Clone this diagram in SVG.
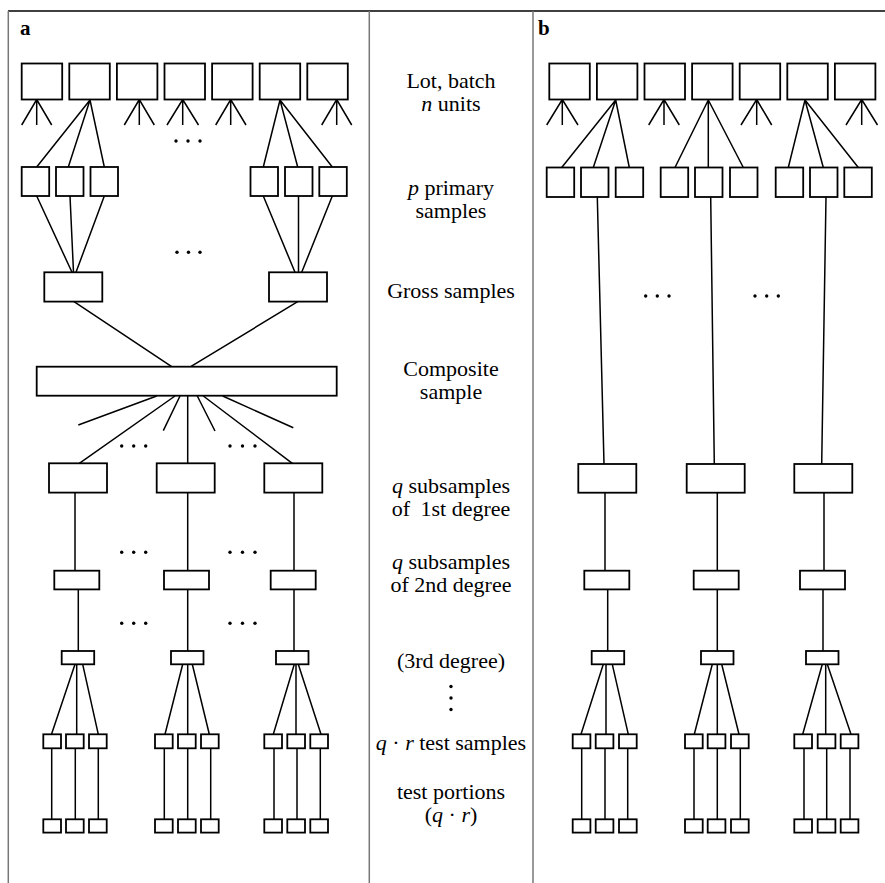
<svg xmlns="http://www.w3.org/2000/svg" width="885" height="883" viewBox="0 0 885 883">
<style>
.bx{fill:#fff;stroke:#000;stroke-width:1.8}
.ln{fill:none;stroke:#000;stroke-width:1.5}
.fr{fill:none;stroke:#777;stroke-width:1.5}
.lb{font-size:22px;fill:#000;text-anchor:middle}
.hd{font-size:21px;font-weight:bold;fill:#000}
.dt{fill:#000}
</style>
<rect width="885" height="883" fill="#fff"/>
<g id="frame" font-family="Liberation Serif, Times New Roman, DejaVu Serif, serif">
<line x1="8" y1="11" x2="885" y2="11" stroke="#000" stroke-width="1.5"/>
<line class="fr" x1="8.3" y1="11" x2="8.3" y2="883"/>
<line class="fr" x1="369.3" y1="11" x2="369.3" y2="883"/>
<line class="fr" x1="533" y1="11" x2="533" y2="883"/>
<text class="hd" x="20" y="35">a</text>
<text class="hd" x="538" y="35">b</text>
</g>
<g id="connectors">
<path class="ln" d="M21.7,125 L36.7,99.5 L51.7,125 M36.7,99.5 V125"/>
<path class="ln" d="M124.3,125 L139.3,99.5 L154.3,125 M139.3,99.5 V125"/>
<path class="ln" d="M167,125 L182.7,99.5 L198.5,125 M182.7,99.5 V125"/>
<path class="ln" d="M215.7,125 L230.7,99.5 L246,125 M230.7,99.5 V125"/>
<path class="ln" d="M321.7,125 L336.7,99.5 L351.7,125 M336.7,99.5 V125"/>
<path class="ln" d="M90,100 L36.7,167 M90,100 L68.3,167 M90,100 L104.3,167"/>
<path class="ln" d="M280,100 L263.3,167 M280,100 L297.7,167 M280,100 L332.3,167"/>
<path class="ln" d="M36.7,196 L72,272.3 M70,196 L73.5,272.3 M104.3,196 L76,272.3"/>
<path class="ln" d="M263.3,196 L295,272.3 M298.5,196 L298.5,272.3 M332.3,196 L301.7,272.3"/>
<path class="ln" d="M74,301.7 L171.7,366.7 M297.7,301.7 L190.7,366.7"/>
<path class="ln" d="M156.7,396 L78.3,425 M175,396 L79.3,463.3 M180,396 L163.3,430.7 M187.7,396 V463.3 M197.3,396 L215,431 M203.3,396 L292.3,463.3 M222.7,396 L293.3,427.7"/>
<path class="ln" d="M75,492.7 V570.7 M187.7,492.7 V570.7 M294,492.7 V570.7"/>
<path class="ln" d="M78.3,589.3 V651 M187.7,589.3 V651 M294,589.3 V651"/>
<path class="ln" d="M75,664.3 L51.5,734.3 M76.7,664.3 V734.3 M82.7,664.3 L98.3,734.3"/>
<path class="ln" d="M182.7,664.3 L165,734.3 M187.7,664.3 V734.3 M192.3,664.3 L209.3,734.3"/>
<path class="ln" d="M294.3,664.3 L273.3,734.3 M296,664.3 V734.3 M298.3,664.3 L321,734.3"/>
<path class="ln" d="M51.7,749 V819.3 M75.3,749 V819.3 M98.3,749 V819.3 M164.3,749 V819.3 M187.7,749 V819.3 M210.7,749 V819.3 M274,749 V819.3 M297,749 V819.3 M320.3,749 V819.3"/>
<path class="ln" d="M546.7,125 L562.3,99.5 L578,125 M562.3,99.5 V125"/>
<path class="ln" d="M648.7,125 L664,99.5 L679.3,125 M664,99.5 V125"/>
<path class="ln" d="M741,125 L756.7,99.5 L771.7,125 M756.7,99.5 V125"/>
<path class="ln" d="M846,125 L861.7,99.5 L877.5,125 M861.7,99.5 V125"/>
<path class="ln" d="M615.7,100 L561.7,167.5 M615.7,100 L593.3,167.5 M615.7,100 L629.3,167.5"/>
<path class="ln" d="M708.3,100 L675,167.5 M708.3,100 L708.3,167.5 M708.3,100 L743.3,167.5"/>
<path class="ln" d="M805,100 L788.3,167.5 M805,100 L823.3,167.5 M805,100 L858.3,167.5"/>
<path class="ln" d="M597.3,197 L604,464 M710.7,197 L714.3,464 M826,197 L821.7,464"/>
<path class="ln" d="M605,492.7 V570.7 M717.3,492.7 V570.7 M824,492.7 V570.7"/>
<path class="ln" d="M607.7,589.3 V651 M717.3,589.3 V651 M823,589.3 V651"/>
<path class="ln" d="M603.3,664.3 L581,734.3 M606,664.3 V734.3 M612.3,664.3 L628.3,734.3"/>
<path class="ln" d="M712.3,664.3 L694.3,734.3 M717.3,664.3 V734.3 M721.7,664.3 L739,734.3"/>
<path class="ln" d="M822.3,664.3 L802.7,734.3 M825.7,664.3 V734.3 M827.3,664.3 L851,734.3"/>
<path class="ln" d="M581.7,749 V819.3 M605,749 V819.3 M627.7,749 V819.3 M694,749 V819.3 M717.3,749 V819.3 M740.3,749 V819.3 M804,749 V819.3 M826.7,749 V819.3 M850,749 V819.3"/>
</g>
<g id="dots">
<circle class="dt" cx="176" cy="141" r="1.7"/><circle class="dt" cx="188" cy="141" r="1.7"/><circle class="dt" cx="200" cy="141" r="1.7"/>
<circle class="dt" cx="177" cy="252.3" r="1.7"/><circle class="dt" cx="188.5" cy="252.3" r="1.7"/><circle class="dt" cx="200" cy="252.3" r="1.7"/>
<circle class="dt" cx="121.7" cy="446" r="1.7"/><circle class="dt" cx="133.7" cy="446" r="1.7"/><circle class="dt" cx="145.7" cy="446" r="1.7"/>
<circle class="dt" cx="230" cy="446" r="1.7"/><circle class="dt" cx="242.5" cy="446" r="1.7"/><circle class="dt" cx="255" cy="446" r="1.7"/>
<circle class="dt" cx="121.7" cy="552.3" r="1.7"/><circle class="dt" cx="133.7" cy="552.3" r="1.7"/><circle class="dt" cx="145.7" cy="552.3" r="1.7"/>
<circle class="dt" cx="230" cy="552.3" r="1.7"/><circle class="dt" cx="242.5" cy="552.3" r="1.7"/><circle class="dt" cx="255" cy="552.3" r="1.7"/>
<circle class="dt" cx="121.7" cy="623.3" r="1.7"/><circle class="dt" cx="133.7" cy="623.3" r="1.7"/><circle class="dt" cx="145.7" cy="623.3" r="1.7"/>
<circle class="dt" cx="230" cy="623.3" r="1.7"/><circle class="dt" cx="242.5" cy="623.3" r="1.7"/><circle class="dt" cx="255" cy="623.3" r="1.7"/>
<circle class="dt" cx="645.7" cy="296" r="1.7"/><circle class="dt" cx="657.3" cy="296" r="1.7"/><circle class="dt" cx="669" cy="296" r="1.7"/>
<circle class="dt" cx="755" cy="296" r="1.7"/><circle class="dt" cx="766.7" cy="296" r="1.7"/><circle class="dt" cx="778.3" cy="296" r="1.7"/>
<circle class="dt" cx="451" cy="686.5" r="1.7"/><circle class="dt" cx="451" cy="698" r="1.7"/><circle class="dt" cx="451" cy="709.5" r="1.7"/>
</g>
<g id="a-lot">
<rect class="bx" x="21.7" y="63.5" width="40.5" height="36"/>
<rect class="bx" x="69.3" y="63.5" width="40.5" height="36"/>
<rect class="bx" x="116.9" y="63.5" width="40.5" height="36"/>
<rect class="bx" x="164.5" y="63.5" width="40.5" height="36"/>
<rect class="bx" x="212.1" y="63.5" width="40.5" height="36"/>
<rect class="bx" x="259.7" y="63.5" width="40.5" height="36"/>
<rect class="bx" x="307.3" y="63.5" width="40.5" height="36"/>
</g>
<g id="a-primary">
<rect class="bx" x="21.7" y="167" width="27.5" height="29"/>
<rect class="bx" x="56" y="167" width="27.5" height="29"/>
<rect class="bx" x="90.5" y="167" width="27.5" height="29"/>
<rect class="bx" x="250.5" y="167" width="27.5" height="29"/>
<rect class="bx" x="285" y="167" width="27.5" height="29"/>
<rect class="bx" x="319.3" y="167" width="27.5" height="29"/>
</g>
<g id="a-gross">
<rect class="bx" x="44.3" y="272.3" width="58" height="29.3"/>
<rect class="bx" x="269" y="272.3" width="58" height="29.3"/>
</g>
<g id="a-composite">
<rect class="bx" x="36.7" y="366.7" width="300" height="29"/>
</g>
<g id="a-sub1">
<rect class="bx" x="49" y="463.3" width="58" height="29.3"/>
<rect class="bx" x="156.7" y="463.3" width="58" height="29.3"/>
<rect class="bx" x="264.3" y="463.3" width="58" height="29.3"/>
</g>
<g id="a-sub2">
<rect class="bx" x="54.3" y="570.7" width="45" height="18.7"/>
<rect class="bx" x="164" y="570.7" width="45" height="18.7"/>
<rect class="bx" x="270.7" y="570.7" width="45" height="18.7"/>
</g>
<g id="a-sub3">
<rect class="bx" x="61.7" y="651" width="32.5" height="13.3"/>
<rect class="bx" x="171" y="651" width="32.5" height="13.3"/>
<rect class="bx" x="276" y="651" width="32.5" height="13.3"/>
</g>
<g id="a-test-samples">
<rect class="bx" x="43.3" y="734.3" width="17.7" height="14"/>
<rect class="bx" x="66" y="734.3" width="17.7" height="14"/>
<rect class="bx" x="89" y="734.3" width="17.7" height="14"/>
<rect class="bx" x="155" y="734.3" width="17.7" height="14"/>
<rect class="bx" x="178" y="734.3" width="17.7" height="14"/>
<rect class="bx" x="201" y="734.3" width="17.7" height="14"/>
<rect class="bx" x="264.3" y="734.3" width="17.7" height="14"/>
<rect class="bx" x="287.3" y="734.3" width="17.7" height="14"/>
<rect class="bx" x="310.3" y="734.3" width="17.7" height="14"/>
</g>
<g id="a-test-portions">
<rect class="bx" x="43.3" y="819.3" width="17.7" height="13.3"/>
<rect class="bx" x="66" y="819.3" width="17.7" height="13.3"/>
<rect class="bx" x="89" y="819.3" width="17.7" height="13.3"/>
<rect class="bx" x="155" y="819.3" width="17.7" height="13.3"/>
<rect class="bx" x="178" y="819.3" width="17.7" height="13.3"/>
<rect class="bx" x="201" y="819.3" width="17.7" height="13.3"/>
<rect class="bx" x="264.3" y="819.3" width="17.7" height="13.3"/>
<rect class="bx" x="287.3" y="819.3" width="17.7" height="13.3"/>
<rect class="bx" x="310.3" y="819.3" width="17.7" height="13.3"/>
</g>
<g id="b-lot">
<rect class="bx" x="549.3" y="63.5" width="40.5" height="36"/>
<rect class="bx" x="596.9" y="63.5" width="40.5" height="36"/>
<rect class="bx" x="644.5" y="63.5" width="40.5" height="36"/>
<rect class="bx" x="692.1" y="63.5" width="40.5" height="36"/>
<rect class="bx" x="739.7" y="63.5" width="40.5" height="36"/>
<rect class="bx" x="787.3" y="63.5" width="40.5" height="36"/>
<rect class="bx" x="834.9" y="63.5" width="40.5" height="36"/>
</g>
<g id="b-primary">
<rect class="bx" x="546.7" y="167.5" width="27.5" height="29.5"/>
<rect class="bx" x="581" y="167.5" width="27.5" height="29.5"/>
<rect class="bx" x="615.7" y="167.5" width="27.5" height="29.5"/>
<rect class="bx" x="660.7" y="167.5" width="27.5" height="29.5"/>
<rect class="bx" x="695" y="167.5" width="27.5" height="29.5"/>
<rect class="bx" x="730" y="167.5" width="27.5" height="29.5"/>
<rect class="bx" x="775.7" y="167.5" width="27.5" height="29.5"/>
<rect class="bx" x="810" y="167.5" width="27.5" height="29.5"/>
<rect class="bx" x="844.3" y="167.5" width="27.5" height="29.5"/>
</g>
<g id="b-sub1">
<rect class="bx" x="578.3" y="464" width="58" height="28.7"/>
<rect class="bx" x="686.7" y="464" width="58" height="28.7"/>
<rect class="bx" x="794.3" y="464" width="58" height="28.7"/>
</g>
<g id="b-sub2">
<rect class="bx" x="584.3" y="570.7" width="45" height="18.7"/>
<rect class="bx" x="693.7" y="570.7" width="45" height="18.7"/>
<rect class="bx" x="800" y="570.7" width="45" height="18.7"/>
</g>
<g id="b-sub3">
<rect class="bx" x="591.7" y="651" width="32.5" height="13.3"/>
<rect class="bx" x="701" y="651" width="32.5" height="13.3"/>
<rect class="bx" x="806" y="651" width="32.5" height="13.3"/>
</g>
<g id="b-test-samples">
<rect class="bx" x="572.7" y="734.3" width="17.7" height="14"/>
<rect class="bx" x="595.7" y="734.3" width="17.7" height="14"/>
<rect class="bx" x="619" y="734.3" width="17.7" height="14"/>
<rect class="bx" x="685" y="734.3" width="17.7" height="14"/>
<rect class="bx" x="707.7" y="734.3" width="17.7" height="14"/>
<rect class="bx" x="731" y="734.3" width="17.7" height="14"/>
<rect class="bx" x="794.3" y="734.3" width="17.7" height="14"/>
<rect class="bx" x="817.7" y="734.3" width="17.7" height="14"/>
<rect class="bx" x="840.7" y="734.3" width="17.7" height="14"/>
</g>
<g id="b-test-portions">
<rect class="bx" x="572.7" y="819.3" width="17.7" height="13.3"/>
<rect class="bx" x="595.7" y="819.3" width="17.7" height="13.3"/>
<rect class="bx" x="619" y="819.3" width="17.7" height="13.3"/>
<rect class="bx" x="685" y="819.3" width="17.7" height="13.3"/>
<rect class="bx" x="707.7" y="819.3" width="17.7" height="13.3"/>
<rect class="bx" x="731" y="819.3" width="17.7" height="13.3"/>
<rect class="bx" x="794.3" y="819.3" width="17.7" height="13.3"/>
<rect class="bx" x="817.7" y="819.3" width="17.7" height="13.3"/>
<rect class="bx" x="840.7" y="819.3" width="17.7" height="13.3"/>
</g>
<g id="labels" font-family="Liberation Serif, Times New Roman, DejaVu Serif, serif">
<text class="lb" x="451" y="87.5">Lot, batch</text>
<text class="lb" x="451" y="110.5"><tspan font-style="italic">n</tspan> units</text>
<text class="lb" x="451" y="195"><tspan font-style="italic">p</tspan> primary</text>
<text class="lb" x="451" y="218">samples</text>
<text class="lb" x="451" y="297.7">Gross samples</text>
<text class="lb" x="451" y="376">Composite</text>
<text class="lb" x="451" y="399">sample</text>
<text class="lb" x="451" y="492.5"><tspan font-style="italic">q</tspan> subsamples</text>
<text class="lb" x="451" y="515.5">of <tspan dx="5">1st degree</tspan></text>
<text class="lb" x="451" y="568.5"><tspan font-style="italic">q</tspan> subsamples</text>
<text class="lb" x="451" y="591.5">of 2nd degree</text>
<text class="lb" x="451" y="668">(3rd degree)</text>
<text class="lb" x="451" y="750"><tspan font-style="italic">q</tspan> · <tspan font-style="italic">r</tspan> test samples</text>
<text class="lb" x="451" y="799">test portions</text>
<text class="lb" x="451" y="822">(<tspan font-style="italic">q</tspan> · <tspan font-style="italic">r</tspan>)</text>
</g>
</svg>
